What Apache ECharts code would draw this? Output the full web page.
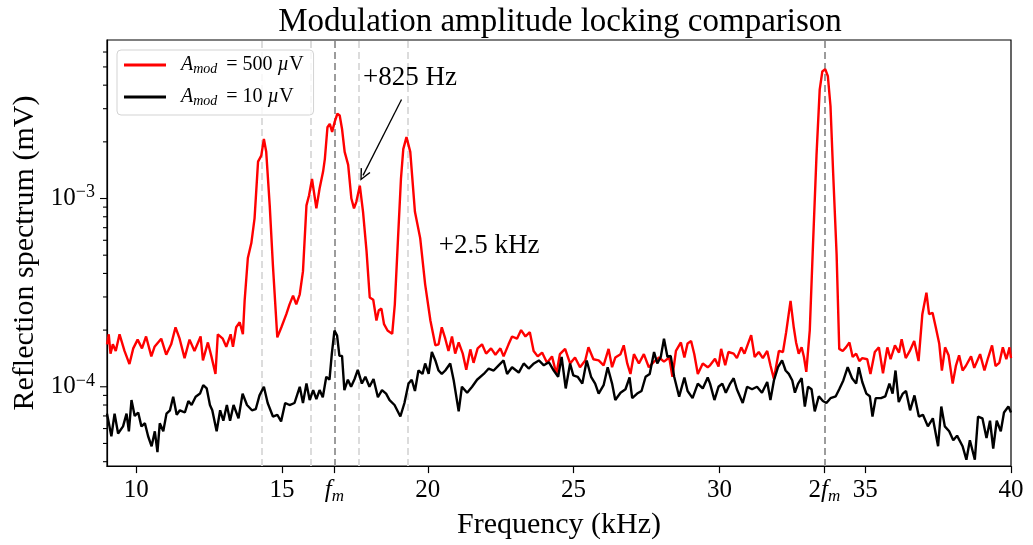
<!DOCTYPE html>
<html>
<head>
<meta charset="utf-8">
<title>Modulation amplitude locking comparison</title>
<script src="https://cdn.jsdelivr.net/npm/echarts@6/dist/echarts.min.js"></script>
<style>
  html, body { margin: 0; padding: 0; background: #fff; }
  #chart { width: 1033px; height: 545px; }
</style>
</head>
<body>
<div id="chart"></div>
<script>
// spectra, frequency in kHz, amplitude in units of 1e-4 mV
const UNIT = 1e-4;

const redFreq = [9.0, 9.06, 9.12, 9.2, 9.3, 9.43, 9.6, 9.77, 9.9, 10.05, 10.2, 10.34, 10.52, 10.63, 10.86, 11.03, 11.2, 11.35, 11.49, 11.66,
  11.83, 12.0, 12.21, 12.29, 12.46, 12.58, 12.72, 12.8, 12.97, 13.09, 13.24, 13.32, 13.43, 13.55, 13.66, 13.72, 13.83, 13.95, 14.06, 14.18,
  14.29, 14.38, 14.46, 14.58, 14.69, 14.84, 14.98, 15.15, 15.26, 15.38, 15.49, 15.61, 15.72, 15.84, 15.93, 16.03, 16.18, 16.29, 16.41, 16.47,
  16.56, 16.64, 16.72, 16.81, 16.9, 16.98, 17.06, 17.15, 17.27, 17.38, 17.47, 17.55, 17.67, 17.78, 17.9, 18.01, 18.13, 18.24, 18.32, 18.41,
  18.5, 18.62, 18.78, 18.87, 18.98, 19.08, 19.16, 19.27, 19.33, 19.4, 19.56, 19.74, 19.91, 20.09, 20.26, 20.37, 20.48, 20.6, 20.71, 20.83,
  20.94, 21.06, 21.2, 21.32, 21.46, 21.57, 21.71, 21.86, 22.0, 22.17, 22.32, 22.49, 22.6, 22.77, 22.89, 23.06, 23.2, 23.35, 23.5, 23.63,
  23.77, 23.92, 24.09, 24.26, 24.41, 24.53, 24.71, 24.88, 25.05, 25.22, 25.4, 25.51, 25.68, 25.86, 26.03, 26.2, 26.32, 26.43, 26.61, 26.72,
  26.84, 26.95, 27.07, 27.24, 27.41, 27.58, 27.76, 27.93, 28.1, 28.28, 28.39, 28.51, 28.68, 28.8, 28.91, 29.03, 29.14, 29.26, 29.43, 29.6,
  29.68, 29.85, 29.97, 30.06, 30.2, 30.31, 30.49, 30.6, 30.75, 30.86, 30.98, 31.09, 31.21, 31.35, 31.49, 31.64, 31.75, 31.87, 32.04, 32.18,
  32.29, 32.44, 32.55, 32.63, 32.72, 32.82, 32.9, 32.98, 33.1, 33.21, 33.33, 33.44, 33.53, 33.63, 33.72, 33.81, 33.9, 34.02, 34.11, 34.23,
  34.34, 34.46, 34.57, 34.69, 34.8, 34.9, 35.07, 35.18, 35.33, 35.47, 35.61, 35.76, 35.87, 36.02, 36.16, 36.25, 36.39, 36.53, 36.68, 36.83,
  36.96, 37.1, 37.19, 37.31, 37.42, 37.54, 37.63, 37.74, 37.86, 38.0, 38.11, 38.22, 38.34, 38.45, 38.63, 38.74, 38.94, 39.09, 39.2, 39.35,
  39.47, 39.6, 39.72, 39.84, 39.95, 40.0];
const redVal = [1.68, 1.9, 1.5, 1.68, 1.55, 1.9, 1.55, 1.32, 1.6, 1.78, 1.6, 1.85, 1.45, 1.63, 1.8, 1.48, 1.68, 2.07, 1.8, 1.42,
  1.78, 1.55, 1.85, 1.38, 1.72, 1.45, 1.17, 1.9, 1.8, 1.63, 1.9, 1.63, 2.07, 2.2, 1.9, 2.87, 4.83, 5.8, 7.85, 15.7,
  16.9, 20.7, 17.7, 9.2, 4.4, 1.83, 2.07, 2.43, 2.74, 3.05, 2.74, 3.1, 4.1, 9.2, 10.4, 12.7, 8.86, 11.3, 13.9, 16.2,
  23.9, 24.9, 22.6, 25.6, 28.2, 27.6, 23.4, 17.7, 15.1, 10.0, 8.86, 9.6, 11.7, 8.5, 5.25, 2.98, 2.9, 2.25, 2.55, 2.6,
  2.15, 1.99, 1.91, 2.74, 6.16, 12.7, 18.3, 21.2, 21.5, 17.7, 8.5, 6.16, 3.5, 2.25, 1.66, 1.68, 2.07, 1.8, 1.55, 1.85,
  1.5, 1.72, 1.5, 1.23, 1.58, 1.34, 1.6, 1.68, 1.5, 1.6, 1.48, 1.6, 1.45, 1.68, 1.85, 1.8, 2.0, 1.85, 1.95, 1.55,
  1.45, 1.52, 1.34, 1.45, 1.17, 1.49, 1.59, 1.33, 1.43, 1.27, 1.38, 1.62, 1.4, 1.38, 1.3, 1.59, 1.27, 1.43, 1.49, 1.66,
  1.33, 1.17, 1.49, 1.33, 1.49, 1.27, 1.36, 1.43, 1.36, 1.43, 1.13, 1.55, 1.72, 1.43, 1.7, 1.75, 1.49, 1.17, 1.33, 1.27,
  1.3, 1.41, 1.28, 1.59, 1.3, 1.53, 1.5, 1.42, 1.62, 1.5, 1.69, 1.88, 1.44, 1.53, 1.42, 1.55, 1.3, 1.1, 1.55, 1.53,
  1.95, 2.86, 2.07, 1.72, 1.5, 1.62, 1.44, 1.2, 2.0, 5.68, 16.9, 37.9, 47.3, 48.7, 44.6, 31.0, 13.8, 5.03, 1.59, 1.55,
  1.62, 1.72, 1.44, 1.5, 1.37, 1.42, 1.4, 1.17, 1.53, 1.62, 1.18, 1.62, 1.4, 1.66, 1.52, 1.79, 1.42, 1.55, 1.75, 1.37,
  2.43, 3.16, 2.43, 2.47, 2.07, 1.69, 1.22, 1.62, 1.47, 1.04, 1.29, 1.47, 1.22, 1.29, 1.45, 1.26, 1.49, 1.22, 1.4, 1.66,
  1.29, 1.34, 1.62, 1.4, 1.62, 1.42];

const blackFreq = [9.0, 9.15, 9.26, 9.38, 9.55, 9.67, 9.75, 9.84, 9.95, 10.07, 10.18, 10.3, 10.41, 10.53, 10.64, 10.73, 10.81, 10.93, 11.04, 11.16,
  11.27, 11.39, 11.5, 11.67, 11.79, 11.9, 12.04, 12.19, 12.3, 12.42, 12.53, 12.61, 12.76, 12.88, 12.99, 13.11, 13.22, 13.34, 13.51, 13.65,
  13.8, 13.97, 14.1, 14.23, 14.38, 14.51, 14.69, 14.84, 14.97, 15.11, 15.26, 15.43, 15.61, 15.72, 15.84, 15.95, 16.07, 16.18, 16.29, 16.4,
  16.52, 16.63, 16.71, 16.8, 16.89, 16.97, 17.06, 17.14, 17.26, 17.37, 17.49, 17.6, 17.74, 17.86, 18.0, 18.14, 18.29, 18.43, 18.57, 18.69,
  18.86, 19.06, 19.2, 19.34, 19.45, 19.56, 19.68, 19.82, 19.91, 20.03, 20.14, 20.26, 20.37, 20.48, 20.6, 20.77, 20.89, 21.06, 21.17, 21.35,
  21.52, 21.69, 21.92, 22.09, 22.26, 22.43, 22.6, 22.72, 22.89, 23.12, 23.29, 23.46, 23.64, 23.81, 23.98, 24.15, 24.32, 24.47, 24.59, 24.73,
  24.88, 24.99, 25.14, 25.3, 25.45, 25.6, 25.74, 25.86, 26.03, 26.17, 26.32, 26.43, 26.61, 26.78, 26.92, 27.01, 27.18, 27.33, 27.47, 27.61,
  27.76, 27.87, 27.99, 28.1, 28.22, 28.33, 28.45, 28.62, 28.8, 28.91, 29.08, 29.26, 29.43, 29.6, 29.68, 29.83, 29.97, 30.1, 30.22, 30.37,
  30.49, 30.6, 30.8, 30.95, 31.12, 31.29, 31.46, 31.64, 31.75, 31.87, 32.01, 32.15, 32.27, 32.38, 32.5, 32.59, 32.7, 32.82, 32.93, 33.04,
  33.16, 33.27, 33.41, 33.55, 33.67, 33.81, 33.99, 34.11, 34.25, 34.4, 34.55, 34.69, 34.78, 34.9, 35.04, 35.16, 35.25, 35.36, 35.54, 35.69,
  35.83, 35.94, 36.04, 36.15, 36.29, 36.4, 36.54, 36.69, 36.84, 36.98, 37.15, 37.32, 37.5, 37.61, 37.73, 37.88, 38.02, 38.15, 38.34, 38.47,
  38.59, 38.76, 38.87, 39.02, 39.16, 39.28, 39.39, 39.51, 39.65, 39.76, 39.91, 40.0];
const blackVal = [0.72, 0.546, 0.72, 0.565, 0.616, 0.72, 0.58, 0.85, 0.7, 0.73, 0.616, 0.64, 0.546, 0.483, 0.58, 0.45, 0.64, 0.58, 0.72, 0.75,
  0.886, 0.71, 0.75, 0.73, 0.84, 0.8, 0.886, 0.92, 1.02, 0.98, 0.8, 0.75, 0.58, 0.75, 0.66, 0.8, 0.66, 0.8, 0.68, 0.92,
  0.8, 0.75, 0.76, 0.9, 1.0, 0.82, 0.695, 0.71, 0.655, 0.82, 0.8, 0.82, 1.0, 0.82, 1.04, 0.85, 0.96, 0.86, 0.96, 0.88,
  1.13, 1.09, 1.5, 1.99, 1.87, 1.46, 1.46, 0.96, 1.09, 1.0, 1.1, 1.23, 1.04, 1.13, 1.0, 1.1, 0.88, 0.96, 0.92, 0.85,
  0.8, 0.695, 0.82, 1.04, 1.09, 0.95, 1.22, 1.17, 1.33, 1.17, 1.53, 1.38, 1.22, 1.17, 1.22, 1.33, 1.08, 0.74, 1.0, 0.93,
  1.0, 1.09, 1.17, 1.25, 1.22, 1.3, 1.38, 1.17, 1.27, 1.19, 1.33, 1.25, 1.33, 1.38, 1.3, 1.35, 1.22, 1.13, 1.44, 0.98,
  1.33, 1.15, 1.13, 1.04, 1.38, 1.13, 1.04, 0.92, 1.02, 1.27, 1.04, 0.85, 0.93, 0.97, 1.12, 0.87, 0.92, 0.95, 1.13, 1.17,
  1.53, 1.33, 1.44, 1.8, 1.44, 1.46, 1.13, 0.886, 1.12, 0.95, 0.87, 1.04, 0.98, 1.12, 1.04, 0.85, 1.0, 1.04, 0.93, 1.04,
  1.11, 0.97, 0.82, 1.0, 0.97, 1.0, 0.93, 1.06, 0.85, 1.08, 1.27, 1.38, 1.22, 1.17, 1.08, 0.93, 1.04, 1.11, 0.785, 1.0,
  0.97, 0.74, 0.89, 0.84, 0.82, 0.87, 0.89, 0.97, 1.08, 1.27, 1.11, 1.04, 1.27, 1.06, 0.92, 0.89, 0.695, 0.87, 0.87, 0.89,
  1.04, 0.92, 1.22, 0.83, 0.92, 0.95, 0.75, 0.9, 0.695, 0.71, 0.616, 0.68, 0.483, 0.785, 0.616, 0.58, 0.52, 0.55, 0.483, 0.41,
  0.52, 0.41, 0.695, 0.68, 0.535, 0.66, 0.47, 0.66, 0.58, 0.73, 0.785, 0.73];

// modulation frequency and its sidebands (kHz)
const fm = 16.8;
const harmonicLines = [fm, 2 * fm];
const sidebandLines = [fm - 2.5, fm - 0.825, fm + 0.825, fm + 2.5];

const xTicks = [10, 15, fm, 20, 25, 30, 2 * fm, 35, 40];
const yMajorTicks = [1e-4, 1e-3];
const yMinorTicks = [4e-5, 5e-5, 6e-5, 7e-5, 8e-5, 9e-5, 2e-4, 3e-4, 4e-4, 5e-4, 6e-4, 7e-4, 8e-4, 9e-4,
  2e-3, 3e-3, 4e-3, 5e-3, 6e-3];

const seriesNames = ['A_mod = 500 µV', 'A_mod = 10 µV'];
const legendAmps = ['500', '10'];

const FONT = "'Liberation Serif', 'Times New Roman', serif";
const X_MIN = 9, X_MAX = 40;
const Y_MIN = 3.79e-5, Y_MAX = 6.95e-3;

const chart = echarts.init(document.getElementById('chart'));

const pairs = (xs, ys) => xs.map((x, i) => [x, ys[i] * UNIT]);

const tickData = yMajorTicks.map(v => [X_MIN, v, 7]).concat(yMinorTicks.map(v => [X_MIN, v, 4]));

const near = (a, b) => Math.abs(a - b) < 1e-6;

const option = {
  animation: false,
  backgroundColor: '#fff',
  title: {
    text: 'Modulation amplitude locking comparison',
    left: 555,
    top: 1,
    textAlign: 'center',
    textStyle: { fontFamily: FONT, fontSize: 33, fontWeight: 'normal', color: '#000' }
  },
  legend: {
    data: seriesNames,
    orient: 'vertical',
    left: 117,
    top: 50,
    padding: [5, 10, 7, 7],
    itemGap: 11,
    itemWidth: 42,
    itemHeight: 3,
    icon: 'rect',
    backgroundColor: 'rgba(255,255,255,0.8)',
    borderColor: '#d3d3d3',
    borderWidth: 1,
    borderRadius: 4,
    selectedMode: false,
    formatter: name => {
      const amp = legendAmps[seriesNames.indexOf(name)];
      return '{a|A}{s|mod}{n| = ' + amp + ' }{i|µ}{n|V}';
    },
    textStyle: {
      fontFamily: FONT,
      color: '#000',
      rich: {
        a: { fontFamily: FONT, fontSize: 20, fontStyle: 'italic', padding: [0, 0, 0, 10], lineHeight: 22 },
        s: { fontFamily: FONT, fontSize: 14, fontStyle: 'italic', verticalAlign: 'bottom', lineHeight: 22, padding: [0, 4, 0, 0] },
        n: { fontFamily: FONT, fontSize: 20, lineHeight: 22 },
        i: { fontFamily: FONT, fontSize: 20, fontStyle: 'italic', lineHeight: 22 }
      }
    }
  },
  grid: {
    left: 107,
    right: 22,
    top: 40,
    bottom: 75,
    show: true,
    borderColor: '#000',
    borderWidth: 1.2,
    backgroundColor: 'transparent'
  },
  xAxis: {
    type: 'value',
    min: X_MIN,
    max: X_MAX,
    name: 'Frequency (kHz)',
    nameLocation: 'middle',
    nameGap: 38,
    nameTextStyle: { fontFamily: FONT, fontSize: 30, color: '#000' },
    axisLine: { lineStyle: { color: '#000', width: 1.2 } },
    axisTick: { show: true, length: 7, customValues: xTicks, lineStyle: { color: '#000', width: 1.2 } },
    axisLabel: {
      customValues: xTicks,
      margin: 9,
      color: '#000',
      fontFamily: FONT,
      fontSize: 25,
      formatter: v => {
        if (near(v, fm)) return '{it|f}{sub|m}';
        if (near(v, 2 * fm)) return '{n|2}{it|f}{sub|m}';
        return '{n|' + v + '}';
      },
      rich: {
        n: { fontFamily: FONT, fontSize: 25, color: '#000', lineHeight: 30 },
        it: { fontFamily: FONT, fontSize: 25, fontStyle: 'italic', color: '#000', lineHeight: 30 },
        sub: { fontFamily: FONT, fontSize: 17, fontStyle: 'italic', color: '#000', verticalAlign: 'bottom', lineHeight: 30 }
      }
    },
    splitLine: { show: false }
  },
  yAxis: {
    type: 'log',
    logBase: 10,
    min: Y_MIN,
    max: Y_MAX,
    name: 'Reflection spectrum (mV)',
    nameLocation: 'middle',
    nameGap: 62,
    nameTextStyle: { fontFamily: FONT, fontSize: 30, color: '#000' },
    axisLine: { show: true, lineStyle: { color: '#000', width: 1.2 } },
    axisTick: { show: false },
    axisLabel: {
      margin: 12,
      color: '#000',
      formatter: v => {
        const e = Math.round(Math.log10(v));
        if (Math.abs(Math.log10(v) - e) > 1e-6) return '';
        return '{b|10}{s|−' + (-e) + '}';
      },
      rich: {
        b: { fontFamily: FONT, fontSize: 25, color: '#000', lineHeight: 30 },
        s: { fontFamily: FONT, fontSize: 18, color: '#000', verticalAlign: 'top', lineHeight: 30 }
      }
    },
    splitLine: { show: false }
  },
  series: [
    {
      name: seriesNames[0],
      type: 'line',
      data: pairs(redFreq, redVal),
      showSymbol: false,
      symbol: 'none',
      color: '#ff0000',
      lineStyle: { color: '#ff0000', width: 2.4 },
      z: 2,
      markLine: {
        silent: true,
        z: 1,
        symbol: ['none', 'none'],
        label: { show: false },
        data: harmonicLines.map(x => ({ xAxis: x, lineStyle: { color: '#9c9c9c', width: 2, type: [7, 4] } }))
          .concat(sidebandLines.map(x => ({ xAxis: x, lineStyle: { color: '#dcdcdc', width: 2, type: [7, 4] } })))
      }
    },
    {
      name: seriesNames[1],
      type: 'line',
      data: pairs(blackFreq, blackVal),
      showSymbol: false,
      symbol: 'none',
      color: '#000',
      lineStyle: { color: '#000', width: 2.4 },
      z: 3,
      markLine: {
        silent: true,
        label: { show: false },
        data: [[
          { coord: [19.10, 3.36e-3], symbol: 'none' },
          { coord: [17.78, 1.327e-3], symbol: 'path://M5,0 L10,11 L8.8,11.5 L5,3 L1.2,11.5 L0,11 Z', symbolSize: [11, 12] }
        ]],
        lineStyle: { color: '#000', width: 1.3, type: 'solid' }
      },
      markPoint: {
        silent: true,
        symbol: 'circle',
        symbolSize: 1,
        itemStyle: { color: 'rgba(0,0,0,0)' },
        label: { show: true, position: 'inside', fontFamily: FONT, fontSize: 27, color: '#000' },
        data: [
          { coord: [19.39, 4.38e-3], value: '+825 Hz', label: { formatter: '+825 Hz' } },
          { coord: [22.1, 5.58e-4], value: '+2.5 kHz', label: { formatter: '+2.5 kHz' } }
        ]
      }
    },
    {
      // y axis ticks in matplotlib style (major + minor decades)
      type: 'custom',
      silent: true,
      clip: false,
      z: 4,
      data: tickData,
      renderItem: (params, api) => {
        const p = api.coord([api.value(0), api.value(1)]);
        const len = api.value(2);
        return {
          type: 'line',
          shape: { x1: p[0] - len, y1: p[1], x2: p[0], y2: p[1] },
          style: { stroke: '#000', lineWidth: 1.1 }
        };
      }
    }
  ]
};

chart.setOption(option);
window.addEventListener('resize', () => chart.resize());
</script>
</body>
</html>
